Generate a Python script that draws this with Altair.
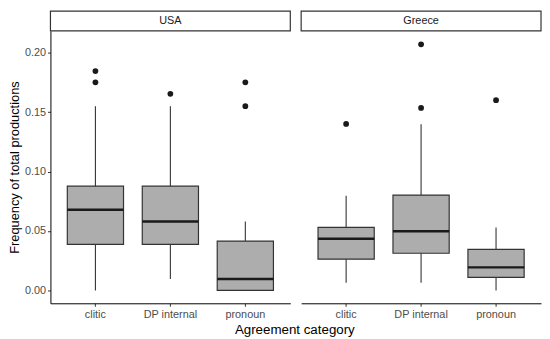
import altair as alt
import pandas as pd

categories = ["clitic", "DP internal", "pronoun"]
countries = ["USA", "Greece"]

usa_lower = [0.000, 0.0097, 0.000]
usa_q1 = [0.0388, 0.0388, 0.000]
usa_median = [0.0678, 0.0580, 0.0097]
usa_q3 = [0.0877, 0.0877, 0.0415]
usa_upper = [0.155, 0.155, 0.058]
usa_out_cat = ["clitic", "clitic", "DP internal", "pronoun", "pronoun"]
usa_out_val = [0.1845, 0.175, 0.1654, 0.175, 0.155]

gr_lower = [0.0064, 0.0064, 0.000]
gr_q1 = [0.0263, 0.0313, 0.011]
gr_median = [0.0434, 0.0498, 0.0194]
gr_q3 = [0.0531, 0.0802, 0.0346]
gr_upper = [0.0797, 0.1397, 0.053]
gr_out_cat = ["clitic", "DP internal", "DP internal", "pronoun"]
gr_out_val = [0.140, 0.1535, 0.207, 0.160]

FONT = "Liberation Sans"
W, H = 243, 276
ydomain = [-0.0108, 0.2183]


def panel(name, lower, q1, med, q3, upper, ocat, oval, show_y):
    stats = pd.DataFrame({"cat": categories, "lower": lower, "q1": q1,
                          "median": med, "q3": q3, "upper": upper})
    outs = pd.DataFrame({"cat": ocat, "val": oval})
    xscale = alt.Scale(domain=categories, paddingInner=0, paddingOuter=0.1)
    xenc = alt.X("cat:N", scale=xscale, sort=categories, title=None,
                 axis=alt.Axis(labelAngle=0, labelFontSize=11, labelColor="#4D4D4D",
                               labelFont=FONT, domainColor="#000000", tickColor="#333333",
                               tickSize=3, labelPadding=2, domainWidth=1))
    if show_y:
        yaxis = alt.Axis(values=[0, 0.05, 0.1, 0.15, 0.2], format=".2f", grid=False,
                         labelFontSize=11, labelColor="#4D4D4D", labelFont=FONT,
                         domainColor="#000000", tickColor="#333333", tickSize=3,
                         labelPadding=2, title="Frequency of total productions",
                         titleFont=FONT, titleFontSize=13, titleFontWeight="normal",
                         titleColor="#000000", titlePadding=3)
    else:
        yaxis = None
    yscale = alt.Scale(domain=ydomain, nice=False, zero=False)

    base = alt.Chart(stats)
    whisk = base.mark_rule(color="#333333", strokeWidth=1.1).encode(
        x=xenc, y=alt.Y("lower:Q", scale=yscale, axis=yaxis), y2="upper:Q")
    box = base.mark_bar(width={"band": 0.75}, fill="#ADADAD", stroke="#333333",
                        strokeWidth=1.2).encode(
        x=xenc, y=alt.Y("q1:Q", scale=yscale, axis=yaxis), y2="q3:Q")
    medl = base.mark_tick(orient="horizontal", size=57, thickness=2.5,
                          color="#1A1A1A", opacity=1).encode(
        x=xenc, y=alt.Y("median:Q", scale=yscale, axis=yaxis))
    pts = alt.Chart(outs).mark_circle(size=34, color="#1A1A1A", opacity=1).encode(
        x=xenc, y=alt.Y("val:Q", scale=yscale, axis=yaxis))
    strip_df = pd.DataFrame({"label": [name]})
    strip = alt.Chart(strip_df).mark_rect(fill="white", stroke="#333333",
                                          strokeWidth=1.2).encode(
        x=alt.value(0), x2=alt.value(W), y=alt.value(-20), y2=alt.value(0))
    strip_txt = alt.Chart(strip_df).mark_text(font=FONT, fontSize=11, color="#1A1A1A",
                                              baseline="middle").encode(
        x=alt.value(W / 2), y=alt.value(-10), text="label:N")
    return alt.layer(whisk, box, medl, pts, strip, strip_txt).properties(
        width=W, height=H)


left = panel("USA", usa_lower, usa_q1, usa_median, usa_q3, usa_upper,
             usa_out_cat, usa_out_val, True)
right = panel("Greece", gr_lower, gr_q1, gr_median, gr_q3, gr_upper,
              gr_out_cat, gr_out_val, False)

chart = alt.hconcat(left, right, spacing=9).resolve_scale(y="shared").properties(
    padding=0,
    title=alt.TitleParams("Agreement category", orient="bottom", anchor="middle",
                          font=FONT, fontSize=13.5, fontWeight="normal",
                          color="#000000", offset=4, dx=20),
    background="white",
).configure_view(stroke=None)

chart.save("out.html", embed_options={"renderer": "svg", "actions": False})
